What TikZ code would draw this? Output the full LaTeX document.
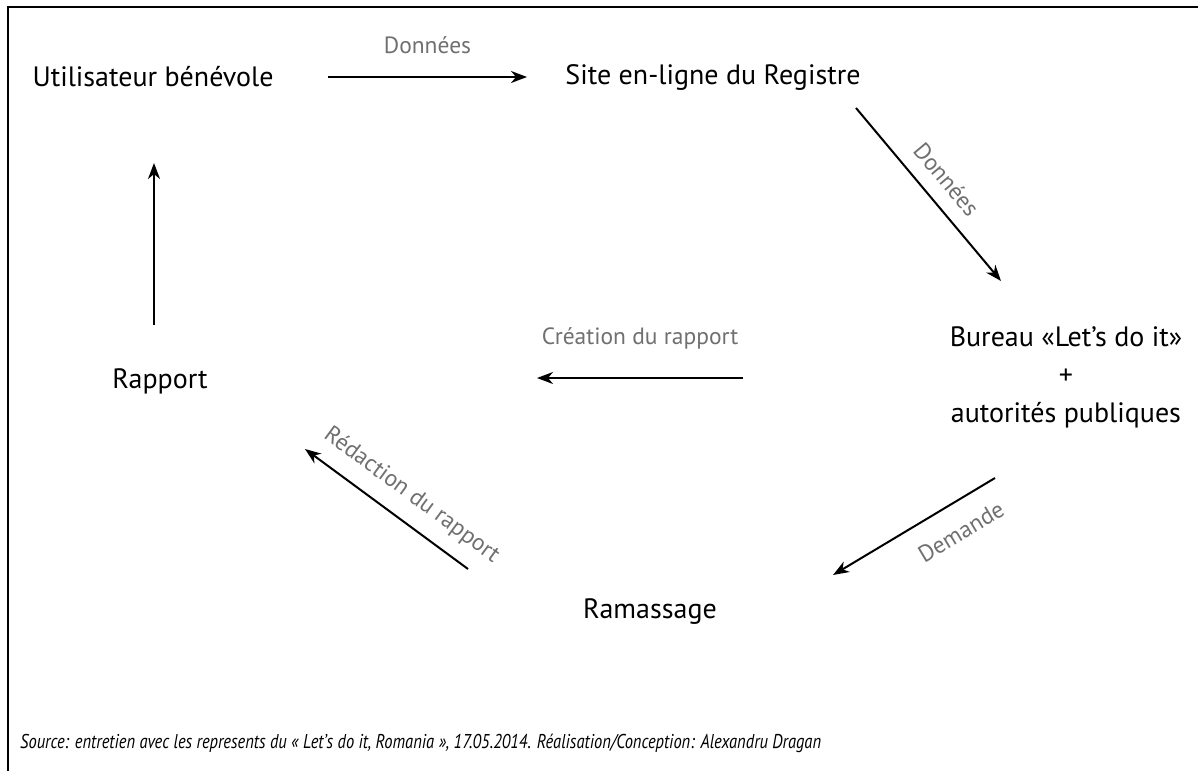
\documentclass[tikz,border=0pt]{standalone}
\usepackage{fontspec}
\setmainfont{PT Sans}
\usetikzlibrary{arrows.meta}
\definecolor{lblgray}{RGB}{112,112,112}
\tikzset{
  mainlbl/.style={inner sep=0pt, font=\fontsize{28}{38}\selectfont, text=black},
  edgelbl/.style={inner sep=0pt, font=\fontsize{23.5}{27}\selectfont, text=lblgray},
  arr/.style={line width=2pt, -{Stealth[length=16pt,width=12pt,inset=5pt]}},
}
\begin{document}
\begin{tikzpicture}[x=1pt,y=-1pt]
\useasboundingbox (0,0) rectangle (1198,771);
\fill[white] (0,0) rectangle (1198,771);
\draw[line width=2pt] (8,771) -- (8,7) -- (1198,7);

\node[mainlbl] (user) at (153,77) {Utilisateur bénévole};
\node[mainlbl] (site) at (713,77) {Site en-ligne du Registre};
\node[mainlbl, align=center] (bureau) at (1066,377) {Bureau «Let’s do it»\\+\\autorités publiques};
\node[mainlbl] (rapport) at (160,381) {Rapport};
\node[mainlbl] (ramassage) at (650,612) {Ramassage};
\node[inner sep=0pt, anchor=west, font=\itshape\fontsize{20}{23}\selectfont] (source) at (20,743)
  {\scalebox{0.825}[1]{Source: entretien avec les represents du « Let’s do it, Romania », 17.05.2014. Réalisation/Conception: Alexandru Dragan}};

\coordinate (a1s) at (328,77);  \coordinate (a1e) at (527,77);
\coordinate (a2s) at (856,108); \coordinate (a2e) at (1001,281);
\coordinate (a3s) at (743,378); \coordinate (a3e) at (537,378);
\coordinate (a4s) at (995,478); \coordinate (a4e) at (833,575);
\coordinate (a5s) at (468,569); \coordinate (a5e) at (305,449);
\coordinate (a6s) at (154,325); \coordinate (a6e) at (154,163);

\draw[arr] (a1s) -- node[edgelbl, above=22pt] (l1) {Données} (a1e);
\draw[arr] (a2s) -- node[edgelbl, sloped, above=14pt, pos=0.5] (l2) {Données} (a2e);
\draw[arr] (a3s) -- node[edgelbl, above=28pt, pos=0.5] (l3) {Création du rapport} (a3e);
\draw[arr] (a4s) -- node[edgelbl, sloped, below=19pt, pos=0.3] (l4) {Demande} (a4e);
\draw[arr] (a5s) -- node[edgelbl, sloped, above=14pt, pos=0.44] (l5) {Rédaction du rapport} (a5e);
\draw[arr] (a6s) -- (a6e);
\end{tikzpicture}
\end{document}
